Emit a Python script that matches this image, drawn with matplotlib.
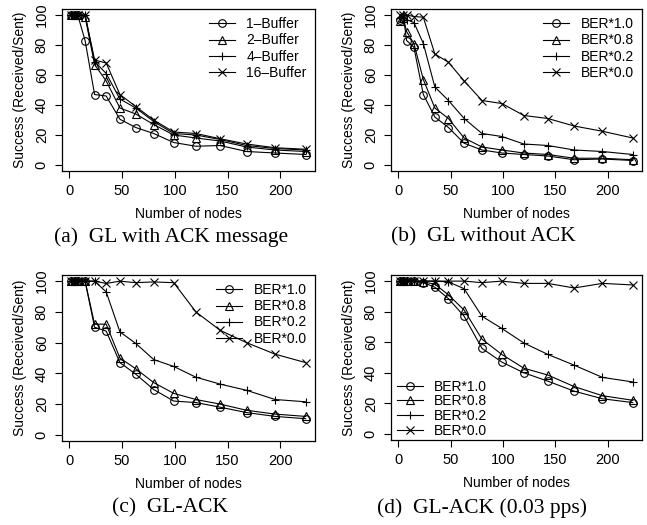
import matplotlib
matplotlib.use("Agg")
import matplotlib.pyplot as plt

plt.rcParams['font.family'] = ['Liberation Sans', 'DejaVu Sans']

# number of nodes (x axis), shared by all panels
nodes = [2, 5, 8, 15, 24, 35, 48, 63, 80, 99, 120, 143, 168, 195, 224]

# (a) GL with ACK message
buf_labels = ["1\u2013Buffer", "2\u2013Buffer", "4\u2013Buffer", "16\u2013Buffer"]
a_buf1 = [100, 100, 100, 83, 47, 46, 30.5, 25, 21, 15, 12.5, 13, 9, 8, 7]
a_buf2 = [100, 100, 100, 99, 67, 56, 38, 34, 27, 20, 18, 16, 12, 10, 9]
a_buf4 = [100, 100, 100, 100, 69, 61, 44, 38, 29, 21, 20, 17, 13, 11, 10]
a_buf16 = [100, 100, 100, 100, 70, 68, 47, 39, 30, 22, 21, 17.5, 14, 11.5, 10.5]

ber_labels = ["BER*1.0", "BER*0.8", "BER*0.2", "BER*0.0"]

# (b) GL without ACK
b_10 = [97, 99, 83, 78.5, 47, 32, 25, 14.5, 10, 8, 7, 6, 3.5, 4, 3]
b_08 = [96, 98, 89, 81, 57, 38, 31, 18, 12, 10, 8, 7, 4.5, 4.5, 3.5]
b_02 = [98, 100, 97, 95, 81, 52, 43, 31, 21, 19, 14, 13, 10, 9, 7]
b_00 = [100, 100, 100, 99, 98.5, 74, 68.5, 56, 43, 41, 33, 31, 26, 22.5, 18]

# (c) GL-ACK
c_10 = [100, 100, 100, 100, 70, 67.5, 47, 39.5, 29.5, 22, 21, 18, 14.5, 12, 10.5]
c_08 = [100, 100, 100, 100, 72, 72, 50, 43, 34, 27, 23, 20, 16, 13.5, 12]
c_02 = [100, 100, 100, 100, 100, 93, 67, 59.5, 49, 44.5, 37.5, 33, 29, 23, 21.5]
c_00 = [100, 100, 100, 100, 100, 98.5, 100, 99, 99.5, 99, 80, 68, 60, 52.5, 47]

# (d) GL-ACK (0.03 pps)
d_10 = [100, 100, 100, 100, 99, 96, 88.5, 77, 56, 47, 40, 34.5, 28, 23, 20.5]
d_08 = [100, 100, 100, 100, 99.5, 98, 91, 81, 62, 52, 43, 38.5, 31, 25, 22]
d_02 = [100, 100, 100, 100, 100, 100, 99.5, 95, 77, 69, 59.5, 52, 45, 37, 34]
d_00 = [100, 100, 100, 100, 100, 100, 100, 100, 99, 100, 98.5, 98.5, 95.5, 98.5, 97.5]

captions = ["(a)  GL with ACK message", "(b)  GL without ACK",
            "(c)  GL-ACK", "(d)  GL-ACK (0.03 pps)"]

markers = [dict(marker='o', mfc='none'), dict(marker='^', mfc='none'),
           dict(marker='+'), dict(marker='x')]

W, H = 647, 525
fig = plt.figure(figsize=(W / 100, H / 100), dpi=100)


def make_axes(left, top, right, bottom):
    return fig.add_axes([left / W, 1 - bottom / H, (right - left) / W, (bottom - top) / H])


def draw(ax, series, labels, legend_loc, lspace=0.2, anchor=None, axpad=0.2):
    for ys, lab, mk in zip(series, labels, markers):
        ax.plot(nodes, ys, color='black', lw=0.8, ms=5.5, mew=0.8, label=lab, **mk)
    pad = 0.04 * (max(nodes) - min(nodes))
    ax.set_xlim(min(nodes) - pad, max(nodes) + pad)
    ax.set_ylim(-4, 104)
    ax.set_xticks([0, 50, 100, 150, 200])
    ax.set_yticks([0, 20, 40, 60, 80, 100])
    ax.tick_params(length=5, width=0.8, labelsize=10.5, pad=4.5)
    for lbl in ax.get_yticklabels():
        lbl.set_rotation(90)
        lbl.set_va('center')
    for s in ax.spines.values():
        s.set_linewidth(0.9)
    h = ax.get_position().height * H
    ax.set_xlabel("Number of nodes", fontsize=10)
    ax.set_ylabel("Success (Received/Sent)", fontsize=10)
    ax.xaxis.set_label_coords(0.5, -36 / h)
    ax.yaxis.set_label_coords(-0.138, 0.5)
    kw = dict(loc=legend_loc, frameon=False, fontsize=10, handlelength=1.9,
              handletextpad=0.8, labelspacing=lspace, borderaxespad=axpad)
    if anchor is not None:
        kw['bbox_to_anchor'] = anchor
    ax.legend(**kw)


ax_a = make_axes(62, 9, 315, 171)
draw(ax_a, [a_buf1, a_buf2, a_buf4, a_buf16], buf_labels, 'upper right', lspace=0.15)
ax_b = make_axes(391, 9, 642, 171)
draw(ax_b, [b_10, b_08, b_02, b_00], ber_labels, 'upper right', lspace=0.15)
ax_c = make_axes(62, 275, 315, 441)
draw(ax_c, [c_10, c_08, c_02, c_00], ber_labels, 'upper right', lspace=0.15)
ax_d = make_axes(391, 275, 642, 440)
draw(ax_d, [d_10, d_08, d_02, d_00], ber_labels, 'lower left', lspace=0.05,
     anchor=(0.0, -0.02), axpad=0.0)

cap_pos = [(171, 237), (483, 237), (170, 508), (482, 508)]
for (cx, cy), txt in zip(cap_pos, captions):
    fig.text(cx / W, 1 - cy / H, txt, ha='center', va='center',
             family=['Liberation Serif', 'DejaVu Serif'], fontsize=15.5)

fig.savefig("out.png", dpi=100)
